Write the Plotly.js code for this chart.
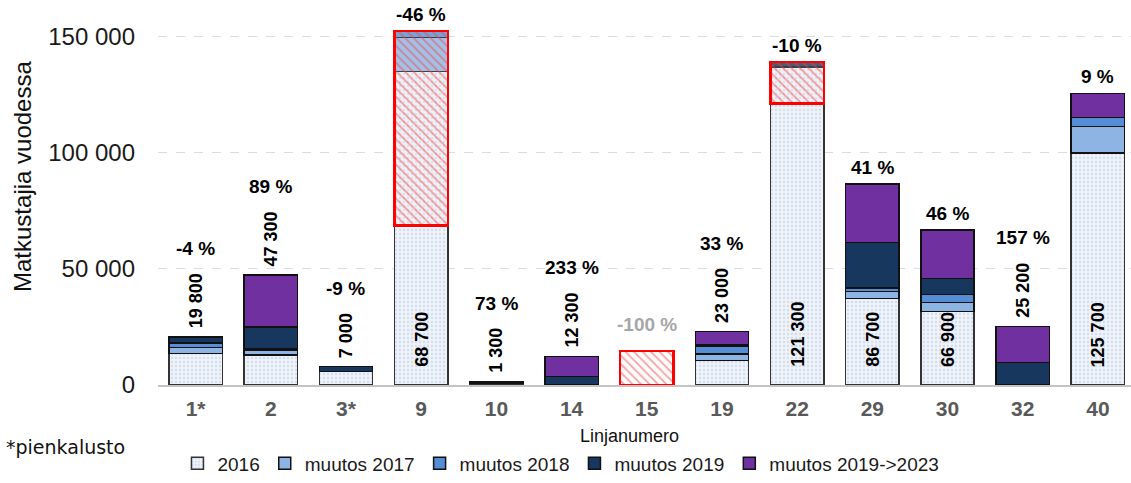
<!DOCTYPE html>
<html><head><meta charset="utf-8">
<script src="https://cdn.plot.ly/plotly-3.0.1.min.js"></script>
<style>html,body{margin:0;padding:0;background:#fff}#chart{width:1131px;height:483px}</style>
</head><body><div id="chart"></div>
<script>
// ---- data ----
const categories = ['1*','2','3*','9','10','14','15','19','22','29','30','32','40'];
const base2016   = [13600,12900,5900,135100,750,0,0,10500,137000,37300,31600,0,99900];
const change2017 = [2600,2000,0,14600,0,0,0,2900,0,2900,4000,0,11400];
const change2018 = [1800,700,0,2900,0,0,0,3500,0,1700,3400,0,4000];
const change2019 = [2600,9400,2000,0,0,3700,0,400,2100,19600,6800,9800,0];
const change2023 = [0,22300,0,0,550,8600,0,5700,0,25200,21100,15400,10400];
const level2019Declined = [null,null,null,152600,null,null,14700,null,139100,null,null,null,null];
const total2023  = [19800,47300,7000,68700,1300,12300,0,23000,121300,86700,66900,25200,125700];
const pctLabels  = ['-4 %','89 %','-9 %','-46 %','73 %','233 %','-100 %','33 %','-10 %','41 %','46 %','157 %','9 %'];
const seriesNames = ['2016','muutos 2017','muutos 2018','muutos 2019','muutos 2019->2023'];

const FONT = '"Liberation Sans", Arial, sans-serif';
const outline = {color:'#111', width:1.5};

const traces = [
  {name:seriesNames[0], y:base2016, marker:{color:'#e9eef7', line:{color:'#333', width:1.5},
     pattern:{shape:'.', fgcolor:'#d3dcec', bgcolor:'#eef2f9', size:4, solidity:0.25}}},
  {name:seriesNames[1], y:change2017, marker:{color:'#8eb4e3', line:outline}},
  {name:seriesNames[2], y:change2018, marker:{color:'#558ed5', line:outline}},
  {name:seriesNames[3], y:change2019, marker:{color:'#17375e', line:outline}},
  {name:seriesNames[4], y:change2023, marker:{color:'#7030a0', line:outline}}
].map(t => Object.assign({type:'bar', x:categories, hoverinfo:'skip'}, t));

traces.push({
  type:'bar', x:categories, showlegend:false, hoverinfo:'skip',
  base: total2023,
  y: level2019Declined.map((v,i) => v == null ? null : v - total2023[i]),
  marker:{color:'rgba(0,0,0,0)', line:{color:'#ff0000', width:2.5},
    pattern:{shape:'\\', fgcolor:'rgba(236,70,70,0.5)', bgcolor:'rgba(255,240,240,0.2)', size:6, solidity:0.3}}
});

const fmt = n => String(n).replace(/\B(?=(\d{3})+(?!\d))/g, ' ');
const ctx = document.createElement('canvas').getContext('2d');
ctx.font = 'bold 18px "Liberation Sans", Arial, sans-serif';

const stackTop = categories.map((c,i) => base2016[i]+change2017[i]+change2018[i]+change2019[i]+change2023[i]);
const annotations = [];
categories.forEach((c,i) => {
  const top = Math.max(stackTop[i], level2019Declined[i] || 0);
  const inside = total2023[i] > 50000;
  let pctShift = 4;
  if (total2023[i] > 0) {
    const txt = fmt(total2023[i]);
    if (inside) {
      annotations.push({x:i, y:0, text:txt, textangle:-90, yanchor:'bottom', xanchor:'center', yshift:16,
        showarrow:false, font:{family:FONT, size:18, color:'#000', weight:'bold'}});
    } else {
      annotations.push({x:i, y:stackTop[i], text:txt, textangle:-90, yanchor:'bottom', xanchor:'center', yshift:7,
        showarrow:false, font:{family:FONT, size:18, color:'#000', weight:'bold'}});
      pctShift = 7 + ctx.measureText(txt).width + 14;
    }
  } else {
    pctShift = 14;
  }
  annotations.push({x:i, y:top, text:pctLabels[i], yanchor:'bottom', xanchor:'center', yshift:pctShift,
    showarrow:false, font:{family:FONT, size:19, weight:'bold', color: total2023[i] === 0 ? '#a6a6a6' : '#000'}});
});

annotations.push({xref:'paper', yref:'paper', x:-0.1387, y:0.57, text:'Matkustajia vuodessa', textangle:-90,
  showarrow:false, xanchor:'center', yanchor:'middle', font:{family:FONT, size:24, color:'#111'}});
annotations.push({xref:'paper', yref:'paper', x:0.485, y:-0.14, text:'Linjanumero',
  showarrow:false, xanchor:'center', yanchor:'middle', font:{family:FONT, size:18, color:'#111'}});
annotations.push({xref:'paper', yref:'paper', x:-0.158, y:-0.17, text:'*pienkalusto',
  showarrow:false, xanchor:'left', yanchor:'middle', font:{family:'"DejaVu Sans", sans-serif', size:19, color:'#111'}});

const layout = {
  width:1131, height:483,
  margin:{l:158, r:0, t:20, b:96},
  barmode:'stack', bargap:0.29,
  separators:', ',
  paper_bgcolor:'#fff', plot_bgcolor:'#fff',
  font:{family:FONT, color:'#111'},
  xaxis:{type:'category', range:[-0.5, 12.44], showline:true, linecolor:'#c4c4c4', linewidth:1.5,
    ticks:'', showgrid:false, zeroline:false, ticklabelstandoff:4,
    tickfont:{family:FONT, size:21, color:'#595959', weight:'bold'}},
  yaxis:{range:[0,157300], tickvals:[0,50000,100000,150000], tickformat:',d',
    showgrid:true, gridcolor:'#d6dde8', griddash:'dash', gridwidth:1, zeroline:false,
    ticks:'', ticklabelstandoff:22, tickfont:{family:FONT, size:24, color:'#1a1a1a'}},
  showlegend:true,
  legend:{orientation:'h', traceorder:'normal', x:0.02, xanchor:'left', y:-0.215, yanchor:'middle',
    font:{family:FONT, size:19, color:'#1a1a1a'}, bgcolor:'rgba(0,0,0,0)'},
  annotations:annotations
};

Plotly.newPlot('chart', traces, layout, {staticPlot:true, displayModeBar:false});
</script></body></html>
